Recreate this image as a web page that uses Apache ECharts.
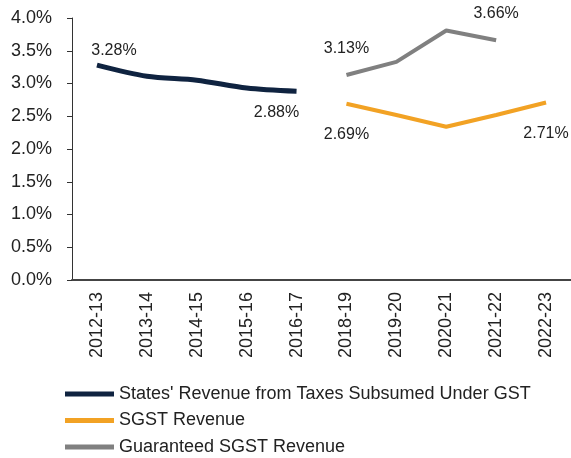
<!DOCTYPE html>
<html>
<head>
<meta charset="utf-8">
<title>GST revenue</title>
<script src="https://cdn.jsdelivr.net/npm/echarts@6/dist/echarts.min.js"></script>
<style>
body{margin:0;background:#fff;}
#main{width:571px;height:458px;}
</style>
</head>
<body>
<div id="main"></div>
<script>
// categories (fiscal years)
var years = ['2012-13','2013-14','2014-15','2015-16','2016-17','2018-19','2019-20','2020-21','2021-22','2022-23'];
// % values, null where series has no data
var statesRevenue = [3.28, 3.11, 3.05, 2.93, 2.88, null, null, null, null, null];
var sgstRevenue = [null, null, null, null, null, 2.69, 2.52, 2.34, 2.52, 2.71];
var guaranteedSgst = [null, null, null, null, null, 3.13, 3.33, 3.81, 3.66, null];
var yTicks = [0, 0.5, 1, 1.5, 2, 2.5, 3, 3.5, 4];

var FONT = 'Liberation Sans, Arial, sans-serif';

// which points get a value label, and where
function withLabels(arr, marks){
    return arr.map(function(v, i){
        var m = marks[i];
        if(v === null || !m) return v;
        return {
            value: v,
            label: {show: true, position: m.pos, offset: m.off}
        };
    });
}

function pct(p){ return p.value.toFixed(2) + '%'; }

var myChart = echarts.init(document.getElementById('main'));
myChart.setOption({
    animation: false,
    textStyle: {fontFamily: FONT},
    grid: {left: 72, right: 0, top: 18, bottom: 178},
    legend: {
        orient: 'vertical',
        left: 65,
        top: 385,
        padding: 0,
        itemWidth: 49,
        itemHeight: 5,
        itemGap: 8.5,
        icon: 'rect',
        textStyle: {fontSize: 18, color: '#222', fontFamily: FONT, lineHeight: 18},
        data: ["States' Revenue from Taxes Subsumed Under GST", 'SGST Revenue', 'Guaranteed SGST Revenue']
    },
    xAxis: {
        type: 'category',
        data: years,
        boundaryGap: true,
        axisLine: {lineStyle: {color: '#444', width: 2}},
        axisTick: {show: false},
        axisLabel: {rotate: 90, margin: 12, fontSize: 18, color: '#222', fontFamily: FONT, interval: 0}
    },
    yAxis: {
        type: 'value',
        min: yTicks[0],
        max: yTicks[yTicks.length - 1],
        interval: 0.5,
        splitLine: {show: false},
        axisLine: {show: true, lineStyle: {color: '#333', width: 1}},
        axisTick: {show: true, length: 5, lineStyle: {color: '#333'}},
        axisLabel: {
            margin: 20, fontSize: 18, color: '#222', fontFamily: FONT,
            formatter: function(v){ return v.toFixed(1) + '%'; }
        }
    },
    series: [
        {
            name: "States' Revenue from Taxes Subsumed Under GST",
            type: 'line',
            smooth: 0.3,
            showSymbol: true,
            symbolSize: 0,
            lineStyle: {color: '#0f2340', width: 5},
            itemStyle: {color: '#0f2340'},
            label: {fontSize: 16, color: '#222', fontFamily: FONT, formatter: pct},
            data: withLabels(statesRevenue, {0: {pos: 'top', off: [17, -2]}, 4: {pos: 'bottom', off: [-20, 8]}})
        },
        {
            name: 'SGST Revenue',
            type: 'line',
            showSymbol: true,
            symbolSize: 0,
            lineStyle: {color: '#f2a224', width: 4},
            itemStyle: {color: '#f2a224'},
            label: {fontSize: 16, color: '#222', fontFamily: FONT, formatter: pct},
            data: withLabels(sgstRevenue, {5: {pos: 'bottom', off: [0, 18]}, 9: {pos: 'bottom', off: [0, 18]}})
        },
        {
            name: 'Guaranteed SGST Revenue',
            type: 'line',
            showSymbol: true,
            symbolSize: 0,
            lineStyle: {color: '#808080', width: 4},
            itemStyle: {color: '#808080'},
            label: {fontSize: 16, color: '#222', fontFamily: FONT, formatter: pct},
            data: withLabels(guaranteedSgst, {5: {pos: 'top', off: [0, -13]}, 8: {pos: 'top', off: [0, -14]}})
        }
    ]
});
</script>
</body>
</html>
